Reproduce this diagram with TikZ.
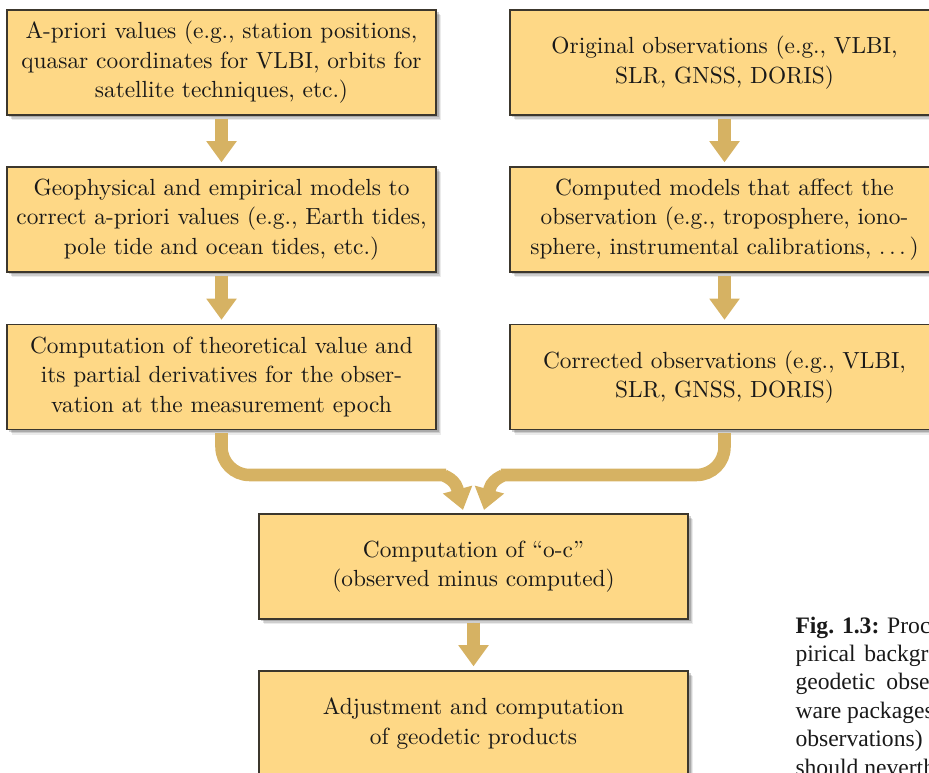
\documentclass[tikz,border=0pt]{standalone}
\usepackage{fontspec}
\newfontfamily\capfont{Liberation Serif}
\usetikzlibrary{arrows.meta,shadows}
\definecolor{boxfill}{RGB}{254,216,134}
\definecolor{arrowcol}{RGB}{214,178,99}
\definecolor{boxline}{RGB}{60,55,45}
\tikzset{
 flowbox/.style={draw=boxline, line width=0.6pt, fill=boxfill,
   minimum width=174.6pt, minimum height=42.7pt, inner sep=0pt, align=center,
   font=\fontsize{9.5}{12}\selectfont, text=black!90,
   drop shadow={shadow xshift=1.0pt, shadow yshift=-1.0pt, fill=black, opacity=0.18},
   drop shadow={shadow xshift=1.6pt, shadow yshift=-1.6pt, fill=black, opacity=0.12},
   drop shadow={shadow xshift=2.2pt, shadow yshift=-2.2pt, fill=black, opacity=0.08}},
 varrow/.style={draw=arrowcol, fill=arrowcol, line width=5.1pt,
   -{Triangle[width=11.8pt,length=8.6pt]}, shorten <=1.2pt, shorten >=1.6pt},
 marrow/.style={draw=arrowcol, fill=none, line width=5.1pt,
   -{Triangle[width=11.8pt,length=8.6pt,fill=arrowcol]}},
 captext/.style={anchor=base west, inner sep=0pt,
   font=\capfont\fontsize{9.6}{11.5}\selectfont, text=black!90}
}
\begin{document}
\begin{tikzpicture}[x=0.40689pt,y=-0.40689pt]
\useasboundingbox (0,0) rectangle (929,773);
\clip (0,0) rectangle (929,773);

\node[flowbox] (L1) at (221.5,62.5) {A-priori values (e.g., station positions,\\ quasar coordinates for VLBI, orbits for\\ satellite techniques, etc.)};
\node[flowbox] (L2) at (221.5,219.5) {Geophysical and empirical models to\\ correct a-priori values (e.g., Earth tides,\\ pole tide and ocean tides, etc.)};
\node[flowbox] (L3) at (221.5,377) {Computation of theoretical value and\\ its partial derivatives for the obser-\\ vation at the measurement epoch};
\node[flowbox] (R1) at (724.5,62.5) {Original observations (e.g., VLBI,\\ SLR, GNSS, DORIS)};
\node[flowbox] (R2) at (724.5,219.5) {Computed models that affect the\\ observation (e.g., troposphere, iono-\\ sphere, instrumental calibrations, $\ldots$\,)};
\node[flowbox] (R3) at (724.5,377) {Corrected observations (e.g., VLBI,\\ SLR, GNSS, DORIS)};
\node[flowbox] (OC) at (473.5,566.5) {Computation of “o-c”\\ (observed minus computed)};
\node[flowbox] (AD) at (473.5,723.5) {Adjustment and computation\\ of geodetic products};

\coordinate (baseL) at (457.3,488.7);
\coordinate (tipL) at (463,510);
\coordinate (baseR) at (489.7,488.7);
\coordinate (tipR) at (484,510);

\draw[varrow] (L1) -- (L2);
\draw[varrow] (L2) -- (L3);
\draw[varrow] (R1) -- (R2);
\draw[varrow] (R2) -- (R3);
\draw[varrow] (OC) -- (AD);

\draw[marrow] ([yshift=-1.2pt]L3.south) [rounded corners=11.4pt] |- (418,475) [sharp corners]
  .. controls (438,475) and (454,476.5) .. (baseL) -- (tipL);
\draw[marrow] ([yshift=-1.2pt]R3.south) [rounded corners=11.4pt] |- (529,475) [sharp corners]
  .. controls (509,475) and (493,476.5) .. (baseR) -- (tipR);

\node[captext] (c1) at (795,633) {\textbf{Fig. 1.3:} Proc};
\node[captext] (c2) at (795,661.4) {pirical\hspace{3.5pt}backgr};
\node[captext] (c3) at (795,689.8) {geodetic\hspace{4.5pt}obse};
\node[captext] (c4) at (795,718.2) {ware packages};
\node[captext] (c5) at (795,746.6) {observations)};
\node[captext] (c6) at (795,775) {should neverth};
\end{tikzpicture}
\end{document}
